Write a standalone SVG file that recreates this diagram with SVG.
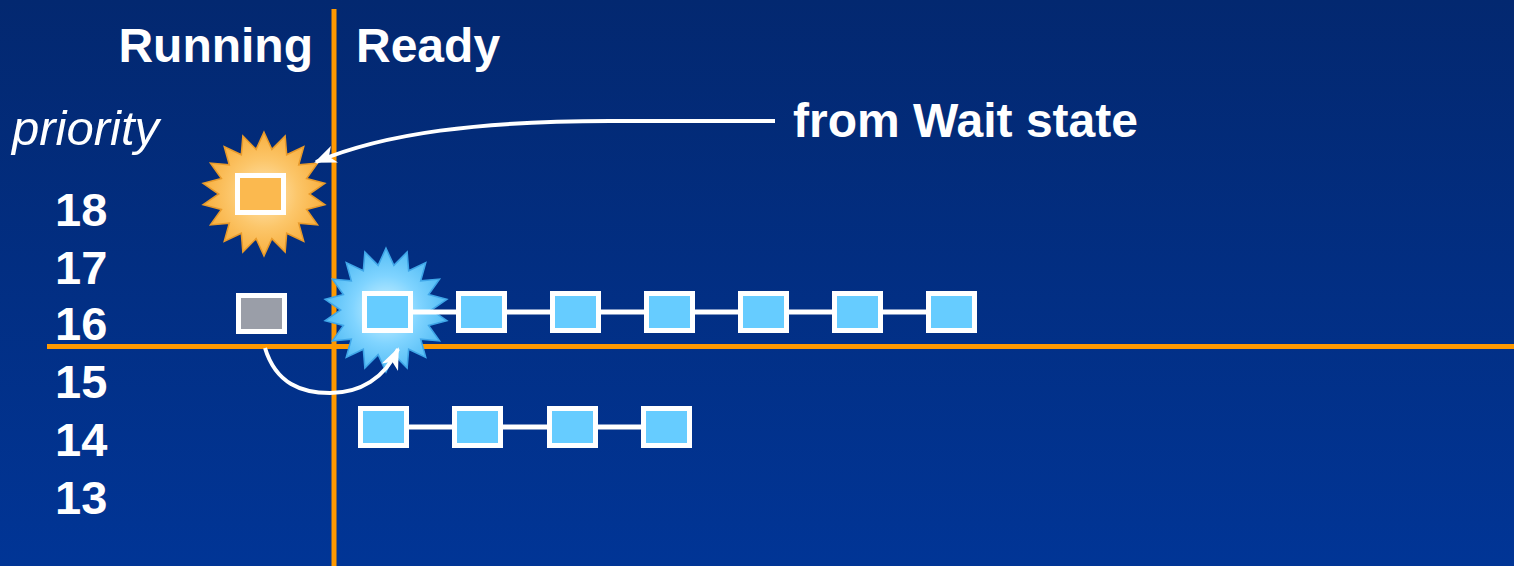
<svg xmlns="http://www.w3.org/2000/svg" width="1514" height="566" viewBox="0 0 1514 566">
  <defs>
    <linearGradient id="bg" x1="0" y1="0" x2="0" y2="1">
      <stop offset="0" stop-color="#032870"/>
      <stop offset="1" stop-color="#013596"/>
    </linearGradient>
    <radialGradient id="gOrange" cx="0.5" cy="0.5" r="0.5">
      <stop offset="0" stop-color="#FFE6B4"/>
      <stop offset="0.55" stop-color="#FCC66A"/>
      <stop offset="1" stop-color="#F8B040"/>
    </radialGradient>
    <radialGradient id="gBlue" cx="0.5" cy="0.5" r="0.5">
      <stop offset="0" stop-color="#D4F4FF"/>
      <stop offset="0.55" stop-color="#80D4FF"/>
      <stop offset="1" stop-color="#55BDF5"/>
    </radialGradient>
    <polygon id="star" points="0,-60 7.64,-43.33 20.52,-56.38 22,-38.11 38.57,-45.96 33.7,-28.28 51.96,-30 41.35,-15.05 59.09,-10.42 44,0 59.09,10.42 41.35,15.05 51.96,30 33.7,28.28 38.57,45.96 22,38.11 20.52,56.38 7.64,43.33 0,60 -7.64,43.33 -20.52,56.38 -22,38.11 -38.57,45.96 -33.7,28.28 -51.96,30 -41.35,15.05 -59.09,10.42 -44,0 -59.09,-10.42 -41.35,-15.05 -51.96,-30 -33.7,-28.28 -38.57,-45.96 -22,-38.11 -20.52,-56.38 -7.64,-43.33"/>
    <marker id="arrow" markerUnits="userSpaceOnUse" markerWidth="22" markerHeight="18" viewBox="0 0 22 18" refX="20" refY="9" orient="auto">
      <path d="M0,0 L22,9 L0,18 L6,9 z" fill="#FFFFFF"/>
    </marker>
    <style>
      .lbl { font-family: "Liberation Sans", Arial, sans-serif; font-weight: bold; font-size: 48px; fill: #FFFFFF; }
      .num { font-family: "Liberation Sans", Arial, sans-serif; font-weight: bold; font-size: 47px; fill: #FFFFFF; }
      .ital { font-family: "Liberation Sans", Arial, sans-serif; font-style: italic; font-size: 49px; fill: #FFFFFF; }
      .axis { stroke: #FF9900; stroke-width: 5; fill: none; }
      .blue { fill: #66CCFF; stroke: #FFFFFF; stroke-width: 5; }
      .link { stroke: #FFFFFF; stroke-width: 5; fill: none; }
      .conn { stroke: #FFFFFF; stroke-width: 4; fill: none; marker-end: url(#arrow); }
    </style>
  </defs>
  <rect x="0" y="0" width="1514" height="566" fill="url(#bg)"/>

  <g id="labels">
    <text class="lbl" x="313" y="62" text-anchor="end">Running</text>
    <text class="lbl" x="356" y="62">Ready</text>
    <text class="ital" x="12" y="145">priority</text>
    <text class="lbl" x="793" y="137">from Wait state</text>
  </g>

  <g id="priorities">
    <text class="num" x="55" y="226">18</text>
    <text class="num" x="55" y="284">17</text>
    <text class="num" x="55" y="340">16</text>
    <text class="num" x="55" y="398">15</text>
    <text class="num" x="55" y="456">14</text>
    <text class="num" x="55" y="514">13</text>
  </g>

  <g id="axes">
    <line class="axis" x1="334" y1="9" x2="334" y2="566"/>
    <line class="axis" x1="47" y1="346.5" x2="1514" y2="346.5"/>
  </g>

  <g id="waking-thread">
    <use href="#star" transform="translate(264,194) scale(1.03)" fill="url(#gOrange)" stroke="#E89A2A" stroke-width="1.5"/>
    <rect x="237.5" y="175.5" width="46" height="37" fill="#FBB94F" stroke="#FFFFFF" stroke-width="5"/>
  </g>

  <g id="running-thread">
    <rect x="238.5" y="295.5" width="46" height="36" fill="#9A9EA8" stroke="#FFFFFF" stroke-width="5"/>
  </g>

  <g id="preempted-burst">
    <use href="#star" transform="translate(386,310) scale(1.03)" fill="url(#gBlue)" stroke="#3FA6E8" stroke-width="1.5"/>
  </g>

  <g id="connectors">
    <path class="conn" d="M775,121 L610,121 C480,121 385,133 316,162"/>
    <path class="conn" d="M265,348 C276,384 302,393 330,393 C360,393 385,378 398,349"/>
    <line class="link" x1="390" y1="312" x2="950" y2="312"/>
    <line class="link" x1="385" y1="427" x2="665" y2="427"/>
  </g>

  <g id="ready16">
    <rect class="blue" x="364.5" y="293.5" width="46" height="37"/>
    <rect class="blue" x="458.5" y="293.5" width="46" height="37"/>
    <rect class="blue" x="552.5" y="293.5" width="46" height="37"/>
    <rect class="blue" x="646.5" y="293.5" width="46" height="37"/>
    <rect class="blue" x="740.5" y="293.5" width="46" height="37"/>
    <rect class="blue" x="834.5" y="293.5" width="46" height="37"/>
    <rect class="blue" x="928.5" y="293.5" width="46" height="37"/>
  </g>

  <g id="ready14">
    <rect class="blue" x="360.5" y="408.5" width="46" height="37"/>
    <rect class="blue" x="454.5" y="408.5" width="46" height="37"/>
    <rect class="blue" x="549.5" y="408.5" width="46" height="37"/>
    <rect class="blue" x="643.5" y="408.5" width="46" height="37"/>
  </g>
</svg>
